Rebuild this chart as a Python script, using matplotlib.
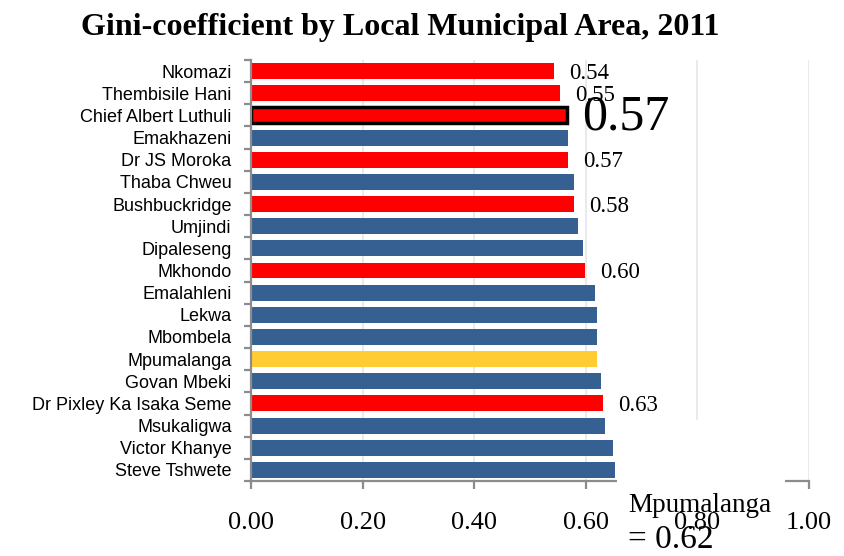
import matplotlib
matplotlib.use("Agg")
import matplotlib.pyplot as plt
from matplotlib.patches import Rectangle

# Gini-coefficient per local municipality, Mpumalanga, 2011
municipalities = [
    "Nkomazi", "Thembisile Hani", "Chief Albert Luthuli", "Emakhazeni",
    "Dr JS Moroka", "Thaba Chweu", "Bushbuckridge", "Umjindi", "Dipaleseng",
    "Mkhondo", "Emalahleni", "Lekwa", "Mbombela", "Mpumalanga",
    "Govan Mbeki", "Dr Pixley Ka Isaka Seme", "Msukaligwa", "Victor Khanye",
    "Steve Tshwete",
]
gini = [
    0.543, 0.554, 0.566, 0.568,
    0.568, 0.579, 0.579, 0.586, 0.595,
    0.599, 0.616, 0.620, 0.620, 0.620,
    0.627, 0.631, 0.634, 0.649,
    0.652,
]
highlighted = [
    "Nkomazi", "Thembisile Hani", "Chief Albert Luthuli", "Dr JS Moroka",
    "Bushbuckridge", "Mkhondo", "Dr Pixley Ka Isaka Seme",
]
focus = "Chief Albert Luthuli"
province = "Mpumalanga"
x_ticks = [0.0, 0.2, 0.4, 0.6, 0.8, 1.0]

BLUE = "#376092"
RED = "#FF0000"
YELLOW = "#FFCC33"
AXIS_GREY = "#8C8C8C"
GRID_GREY = "#E6E6E6"
SERIF = ["Liberation Serif", "DejaVu Serif"]
SANS = ["Liberation Sans", "DejaVu Sans"]

W, H = 845, 556
fig = plt.figure(figsize=(W / 100, H / 100), dpi=100)
ax = fig.add_axes([251 / W, 1 - 481 / H, (809 - 251) / W, (481 - 60) / H])

ypos = list(range(len(municipalities)))
colors = []
for name in municipalities:
    if name == province:
        colors.append(YELLOW)
    elif name in highlighted:
        colors.append(RED)
    else:
        colors.append(BLUE)

bars = ax.barh(ypos, gini, height=0.72, color=colors, zorder=2)
fi = municipalities.index(focus)
bars[fi].set_edgecolor("black")
bars[fi].set_linewidth(2.5)

ax.set_ylim(len(municipalities) - 0.5, -0.5)
ax.set_xlim(0, 1.0)

# value labels for highlighted municipalities
for i, (name, v) in enumerate(zip(municipalities, gini)):
    if name in highlighted:
        size = 36 if name == focus else 16.5
        ax.annotate(f"{v:.2f}", xy=(v, i), xytext=(11, -1.5),
                    textcoords="offset points", ha="left", va="center",
                    fontsize=size, family=SERIF, color="black", zorder=5)

# axes styling
for side in ["top", "right"]:
    ax.spines[side].set_visible(False)
for side in ["left", "bottom"]:
    ax.spines[side].set_color(AXIS_GREY)
    ax.spines[side].set_linewidth(1.6)

ax.set_xticks(x_ticks)
ax.set_xticklabels([f"{t:.2f}" for t in x_ticks], family=SERIF, fontsize=19)
ax.tick_params(axis="x", length=6, width=1.6, color=AXIS_GREY, pad=16)
ax.xaxis.grid(True, color=GRID_GREY, linewidth=1.2, zorder=0)
ax.set_axisbelow(True)

ax.set_yticks(ypos)
ax.set_yticklabels(municipalities, family=SANS, fontsize=13)
ax.tick_params(axis="y", which="major", length=0, pad=14)
ax.set_yticks([p + 0.5 for p in range(-1, len(municipalities))], minor=True)
ax.tick_params(axis="y", which="minor", length=5, width=1.6, color=AXIS_GREY)

# provincial annotation box
ax.add_patch(Rectangle((617 / W, 1 - 492 / H), 168 / W, 72 / H,
                       transform=fig.transFigure, facecolor="white",
                       edgecolor="none", clip_on=False, zorder=3))
fig.text(628 / W, 1 - 506 / H, province, family=SERIF, fontsize=19.5,
         ha="left", va="center")
fig.text(628 / W, 1 - 540 / H, f"= {gini[municipalities.index(province)]:.2f}",
         family=SERIF, fontsize=24, ha="left", va="center")

fig.text(400 / W, 1 - 27 / H, "Gini-coefficient by Local Municipal Area, 2011",
         family=SERIF, fontsize=23, fontweight="bold", ha="center", va="center")

fig.savefig("out.png", dpi=100)
